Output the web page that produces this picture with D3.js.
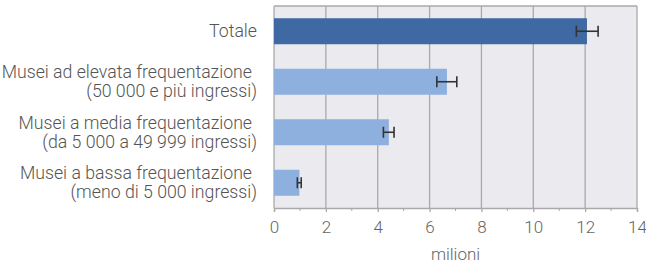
<!DOCTYPE html>
<html lang="it">
<head>
  <meta charset="utf-8">
  <script src="https://d3js.org/d3.v7.min.js"></script>
  <style>
    body { margin: 0; background: #fff; }
    svg { display: block; font-family: Roboto, "Noto Sans", sans-serif; font-weight: 300; }
  </style>
</head>
<body>
  <script>
    // Data
    const categories = ["Totale", "Musei ad elevata frequentazione|(50 000 e più ingressi)",
      "Musei a media frequentazione|(da 5 000 a 49 999 ingressi)",
      "Musei a bassa frequentazione|(meno di 5 000 ingressi)"];
    const values = [12.07, 6.67, 4.43, 0.98];
    const lower = [11.66, 6.28, 4.22, 0.90];
    const upper = [12.50, 7.05, 4.63, 1.05];
    const xTicks = [0, 2, 4, 6, 8, 10, 12, 14];

    const width = 646, height = 264;
    const margin = { top: 6, right: 9, bottom: 56, left: 274 };

    const svg = d3.select("body").append("svg")
      .attr("width", width)
      .attr("height", height);

    const x = d3.scaleLinear().domain([0, 14]).range([margin.left, width - margin.right]);
    const y = d3.scaleBand().domain(categories)
      .range([margin.top, height - margin.bottom])
      .paddingInner(0.485).paddingOuter(0.2425);

    // plot background
    svg.append("rect")
      .attr("x", x(0)).attr("y", margin.top)
      .attr("width", x(14) - x(0)).attr("height", height - margin.bottom - margin.top)
      .attr("fill", "#ebebef");

    // grid lines
    svg.append("g").selectAll("line").data(xTicks).join("line")
      .attr("x1", d => x(d)).attr("x2", d => x(d))
      .attr("y1", margin.top).attr("y2", height - margin.bottom)
      .attr("stroke", "#a9a9ab").attr("stroke-width", 1.3);
    svg.append("line")
      .attr("x1", x(0)).attr("x2", x(14))
      .attr("y1", margin.top).attr("y2", margin.top)
      .attr("stroke", "#a9a9ab").attr("stroke-width", 1.3);

    // bars
    svg.append("g").selectAll("rect").data(categories).join("rect")
      .attr("x", x(0))
      .attr("y", d => y(d))
      .attr("width", (d, i) => x(values[i]) - x(0))
      .attr("height", y.bandwidth())
      .attr("fill", (d, i) => i === 0 ? "#3f69a3" : "#8db0de");

    // error bars
    const eb = svg.append("g").attr("stroke", "#333").attr("stroke-width", 1.6);
    categories.forEach((c, i) => {
      const cy = y(c) + y.bandwidth() / 2;
      eb.append("line").attr("x1", x(lower[i])).attr("x2", x(upper[i])).attr("y1", cy).attr("y2", cy);
      eb.append("line").attr("x1", x(lower[i])).attr("x2", x(lower[i])).attr("y1", cy - 5.5).attr("y2", cy + 5.5);
      eb.append("line").attr("x1", x(upper[i])).attr("x2", x(upper[i])).attr("y1", cy - 5.5).attr("y2", cy + 5.5);
    });

    // x axis
    const axis = svg.append("g")
      .attr("transform", `translate(0,${height - margin.bottom})`)
      .call(d3.axisBottom(x).tickValues(xTicks).tickSize(4).tickPadding(9));
    axis.select(".domain").attr("stroke", "#a9a9ab").attr("stroke-width", 1.3);
    axis.selectAll(".tick line").attr("stroke", "#a9a9ab").attr("stroke-width", 1.3);
    axis.selectAll("text").attr("fill", "#666").attr("font-size", 17)
      .attr("font-family", "Roboto, sans-serif").attr("font-weight", 300);
    // minor ticks
    axis.append("g").selectAll("line").data(d3.range(1, 14, 2)).join("line")
      .attr("x1", d => x(d)).attr("x2", d => x(d)).attr("y1", 0).attr("y2", 3)
      .attr("stroke", "#a9a9ab");

    // category labels
    const lab = svg.append("g").attr("fill", "#555").attr("font-size", 17.7).attr("text-anchor", "end");
    categories.forEach(c => {
      const lines = c.split("|");
      const cy = y(c) + y.bandwidth() / 2;
      const t = lab.append("text").attr("y", cy - (lines.length - 1) * 9.5 + 6);
      lines.forEach((l, k) => {
        // first line of two-line labels ends a space earlier in the reference
        const xr = x(0) - 17 - (lines.length > 1 && k === 0 ? 5 : 0);
        t.append("tspan").attr("x", xr).attr("dy", k === 0 ? 0 : 19).text(l);
      });
    });

    // axis title
    svg.append("text")
      .attr("x", (x(0) + x(14)) / 2).attr("y", 260)
      .attr("text-anchor", "middle").attr("fill", "#666").attr("font-size", 17)
      .text("milioni");
  </script>
</body>
</html>
